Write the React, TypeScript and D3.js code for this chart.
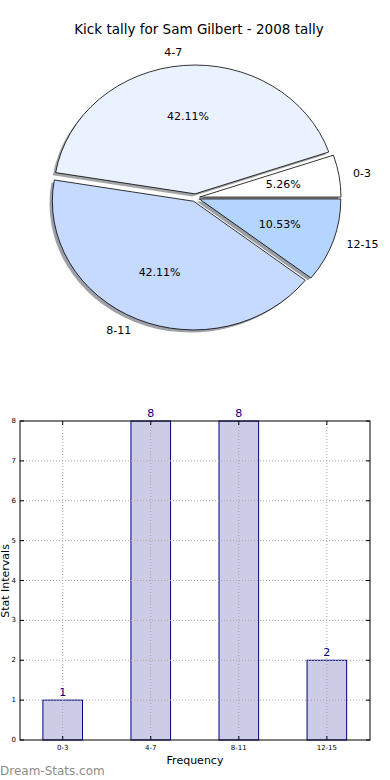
import React from 'react';
import * as d3 from 'd3';

// pie data
const pieLabels = ['0-3', '4-7', '8-11', '12-15'];
const pieValues = [1, 8, 8, 2];
const pieColors = ['#ffffff', '#ebf2ff', '#c6d9ff', '#b4d5ff'];

// bar data
const barCategories = ['0-3', '4-7', '8-11', '12-15'];
const barValues = [1, 8, 8, 2];
const yTicks = [0, 1, 2, 3, 4, 5, 6, 7, 8];

const title = 'Kick tally for Sam Gilbert - 2008 tally';

function shadowOf(c: string) {
  const r = d3.rgb(c);
  return d3.rgb(r.r * 0.3, r.g * 0.3, r.b * 0.3).toString();
}

function App() {
  const font = 'DejaVu Sans, sans-serif';

  // pie geometry (ellipse, like matplotlib without equal aspect)
  const cx = 195.4, cy = 197.7, rx = 141.4, ry = 128.8;
  const explode = 0.03;
  const total = d3.sum(pieValues);

  // matplotlib starts at 3 o'clock, going counter clockwise
  const pie = d3.pie<number>().sort(null).startAngle(Math.PI / 2).endAngle(Math.PI / 2 - 2 * Math.PI);
  const arcs = pie(pieValues);
  const arc = d3.arc<any>().innerRadius(0).outerRadius(1);

  const slices = arcs.map((a, i) => {
    const mid = (a.startAngle + a.endAngle) / 2;
    const ux = Math.sin(mid), uy = -Math.cos(mid);
    const ox = cx + explode * rx * ux;
    const oy = cy + explode * ry * uy;
    return {
      i,
      path: arc(a) as string,
      ox, oy, ux, uy,
      pct: (pieValues[i] / total * 100).toFixed(2) + '%',
    };
  });

  // bar geometry
  const x = d3.scaleLinear().domain([-0.485, 3.49]).range([20, 370]);
  const y = d3.scaleLinear().domain([0, 8]).range([740, 421]);
  const barW = 0.45;
  const [x0, x1] = x.range();

  return (
    <svg width={390} height={780} style={{ position: 'absolute', left: 0, top: 0, background: '#fff' }} fontFamily={font}>
      <text x={199} y={34} textAnchor="middle" fontSize={13.5}>{title}</text>

      {/* shadows */}
      {slices.map(s => (
        <path key={'sh' + s.i} d={s.path}
          transform={`translate(${s.ox - 0.02 * rx},${s.oy + 0.02 * ry}) scale(${rx},${ry})`}
          fill={shadowOf(pieColors[s.i])} fillOpacity={0.5} />
      ))}
      {slices.map(s => (
        <path key={'w' + s.i} d={s.path}
          transform={`translate(${s.ox},${s.oy}) scale(${rx},${ry})`}
          fill={pieColors[s.i]} stroke="#000" strokeWidth={0.8}
          vectorEffect="non-scaling-stroke" />
      ))}
      {slices.map(s => (
        <text key={'p' + s.i} x={s.ox + 0.6 * rx * s.ux} y={s.oy + 0.6 * ry * s.uy}
          textAnchor="middle" dominantBaseline="central" fontSize={11}>{s.pct}</text>
      ))}
      {slices.map(s => (
        <text key={'l' + s.i} x={s.ox + 1.1 * rx * s.ux} y={s.oy + 1.1 * ry * s.uy}
          textAnchor={s.ux > 0 ? 'start' : 'end'} dominantBaseline="central" fontSize={11}>{pieLabels[s.i]}</text>
      ))}

      {/* bar chart */}
      {barValues.map((v, i) => (
        <rect key={'b' + i} x={x(i - barW / 2)} y={y(v)} width={x(barW) - x(0)} height={y(0) - y(v)}
          fill="#ccccE6" stroke="#000080" strokeWidth={1} />
      ))}
      {/* grid */}
      {barCategories.map((c, i) => (
        <line key={'gx' + c} x1={x(i)} x2={x(i)} y1={y(0)} y2={y(8)} stroke="#a8a8a8" strokeWidth={1} strokeDasharray="1,2" />
      ))}
      {yTicks.slice(1, -1).map(t => (
        <line key={'gy' + t} x1={x0} x2={x1} y1={y(t)} y2={y(t)} stroke="#a8a8a8" strokeWidth={1} strokeDasharray="1,2" />
      ))}
      <rect x={x0} y={y(8)} width={x1 - x0} height={y(0) - y(8)} fill="none" stroke="#000" strokeWidth={1} />
      {/* ticks */}
      {yTicks.map(t => (
        <g key={'ty' + t}>
          <line x1={x0} x2={x0 + 4} y1={y(t)} y2={y(t)} stroke="#000" />
          <line x1={x1 - 4} x2={x1} y1={y(t)} y2={y(t)} stroke="#000" />
          <text x={x0 - 4} y={y(t)} textAnchor="end" dominantBaseline="central" fontSize={7}>{t}</text>
        </g>
      ))}
      {barCategories.map((c, i) => (
        <g key={'tx' + c}>
          <line x1={x(i)} x2={x(i)} y1={y(0)} y2={y(0) - 4} stroke="#000" />
          <line x1={x(i)} x2={x(i)} y1={y(8)} y2={y(8) + 4} stroke="#000" />
          <text x={x(i)} y={y(0) + 8} textAnchor="middle" dominantBaseline="central" fontSize={7}>{c}</text>
        </g>
      ))}
      {barValues.map((v, i) => (
        <text key={'v' + i} x={x(i)} y={y(v) - 4} textAnchor="middle" fontSize={11} fill="#000080">{v}</text>
      ))}
      <text x={195} y={764} textAnchor="middle" fontSize={11}>Frequency</text>
      <text transform="translate(9,581) rotate(-90)" textAnchor="middle" fontSize={11}>Stat Intervals</text>
      <text x={0} y={775} fontSize={12} fill="#8c8c8c">Dream-Stats.com</text>
    </svg>
  );
}

export default App;
